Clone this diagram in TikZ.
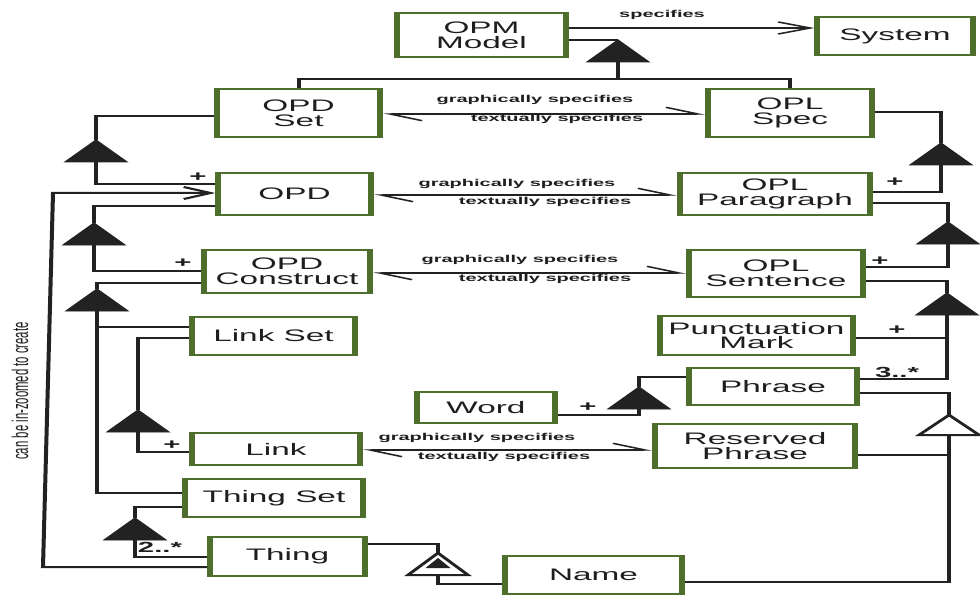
\documentclass[tikz,border=0pt]{standalone}
\usepackage{fontspec}
\setmainfont{Liberation Sans}
\usetikzlibrary{arrows.meta}
\definecolor{boxc}{HTML}{4E6E2E}
\definecolor{ink}{HTML}{1E1E1E}
\definecolor{linec}{HTML}{222222}
\tikzset{
  obj/.style 2 args={draw=boxc, line width=2pt, fill=white, text=ink,
    minimum width=#1*0.375pt, minimum height=#2*0.75pt, inner sep=0pt,
    align=center, font=\fontsize{12.5}{11}\selectfont},
  conn/.style={draw=linec, line width=1.5pt},
  thin/.style={draw=linec, line width=1.1pt},
  lbl/.style={font=\bfseries\fontsize{7.5}{9}\selectfont, inner sep=0pt, text=ink},
  plusmark/.style={font=\bfseries\fontsize{11}{12}\selectfont, inner sep=0pt, text=ink},
  multi/.style={font=\bfseries\fontsize{11}{12}\selectfont, inner sep=0pt, text=ink},
  rotlbl/.style={rotate=90, font=\fontsize{8.5}{10}\selectfont, inner sep=0pt, text=ink},
  spec/.style={{Straight Barb[left,length=12pt,width=10pt]}-{Straight Barb[left,length=12pt,width=10pt]}},
  % filled aggregation triangle
  agg/.pic={
    \filldraw[fill=linec, draw=linec, line width=0.6pt] (-31,22) -- (0,0) -- (31,22) -- cycle;
    \coordinate (-apex) at (0,0);
    \coordinate (-base) at (0,22);
  },
  % hollow generalization triangle
  gen/.pic={
    \filldraw[fill=white, draw=linec, line width=1.5pt] (-30,20) -- (0,0) -- (30,20) -- cycle;
    \coordinate (-apex) at (0,0);
    \coordinate (-base) at (0,20);
  },
  % exhibition triangle: hollow with a filled inner triangle
  exh/.pic={
    \filldraw[fill=white, draw=linec, line width=1.5pt] (-30,22) -- (0,0) -- (30,22) -- cycle;
    \fill[linec] (-12.5,15) -- (0,5) -- (12.5,15) -- cycle;
    \coordinate (-apex) at (0,0);
    \coordinate (-base) at (0,22);
  },
}
\begin{document}
\begin{tikzpicture}[x=0.75pt,y=-0.75pt]
\fill[white] (0,0) rectangle (980,595);
\useasboundingbox (0,0) rectangle (980,595);
\begin{scope}[transform canvas={xscale=2}, x=0.375pt]

% objects
\node[obj={169}{44}] (opm)      at (481.5,35)  {OPM\\Model};
\node[obj={156}{38}] (sys)      at (895,36)    {System};
\node[obj={163}{48}] (opdset)   at (298.5,113) {OPD\\Set};
\node[obj={164}{48}] (oplspec)  at (790,113)   {OPL\\Spec};
\node[obj={153}{42}] (opd)      at (294.5,194) {OPD};
\node[obj={190}{42}] (oplpar)   at (775,194)   {OPL\\Paragraph};
\node[obj={166}{43}] (opdc)     at (287,271.5) {OPD\\Construct};
\node[obj={174}{47}] (opls)     at (776,273.5) {OPL\\Sentence};
\node[obj={163}{38}] (linkset)  at (273.5,336) {Link Set};
\node[obj={193}{39}] (punct)    at (756.5,335.5) {Punctuation\\Mark};
\node[obj={168}{37}] (phrase)   at (773,386.5) {Phrase};
\node[obj={138}{31}] (word)     at (486,407.5) {Word};
\node[obj={168}{32}] (link)     at (276,449)   {Link};
\node[obj={200}{44}] (resph)    at (755,446)   {Reserved\\Phrase};
\node[obj={178}{38}] (thingset) at (274,498)   {Thing Set};
\node[obj={155}{39}] (thing)    at (287.5,556.5) {Thing};
\node[obj={177}{38}] (nm)       at (593.5,575) {Name};

% OPM Model specifies System
\draw[thin, -{Straight Barb[length=12pt,width=9pt]}] (opm.east |- 0,28) -- (sys.west |- 0,28);
\node[lbl] at (662,15) {specifies};

% OPM Model consists of OPD Set and OPL Spec
\pic (t0) at (618,40) {agg};
\coordinate (j0) at (618,79);
\draw[conn] (opm.east |- 0,40) -- (t0-apex);
\draw[conn] (t0-base) -- (j0);
\draw[conn] (opdset.north) |- (j0) -| (oplspec.north);

% graphically / textually specifies pairs
\draw[thin, spec] (opdset.east |- 0,114) -- (oplspec.west |- 0,114);
\node[lbl] at (535,100) {graphically specifies};
\node[lbl] at (557,119) {textually specifies};

\draw[thin, spec] (opd.east |- 0,195) -- (oplpar.west |- 0,195);
\node[lbl] at (517,184) {graphically specifies};
\node[lbl] at (545,202) {textually specifies};

\draw[thin, spec] (opdc.east |- 0,273) -- (opls.west |- 0,273);
\node[lbl] at (520,260) {graphically specifies};
\node[lbl] at (545,279) {textually specifies};

\draw[thin, spec] (link.east |- 0,450) -- (resph.west |- 0,450);
\node[lbl] at (477,438) {graphically specifies};
\node[lbl] at (504,457) {textually specifies};

% left hierarchy
\pic (t1) at (96,140) {agg};
\draw[conn] (opdset.west |- 0,116) -| (t1-apex);
\draw[conn] (t1-base) |- (opd.west |- 0,184);
\node[plusmark] at (198,177) {+};

\pic (t2) at (94,223) {agg};
\draw[conn] (opd.west |- 0,206) -| (t2-apex);
\draw[conn] (t2-base) |- (opdc.west |- 0,271);
\node[plusmark] at (183,263) {+};

\pic (t3) at (97,289) {agg};
\draw[conn] (opdc.west |- 0,283) -| (t3-apex);
\draw[conn] (t3-base) |- (thingset.west |- 0,493);
\draw[conn] (t3-base |- 0,327) -- (linkset.west |- 0,327);

\pic (t4) at (138,410) {agg};
\draw[conn] (linkset.west |- 0,338) -| (t4-apex);
\draw[conn] (t4-base) |- (link.west |- 0,452);
\node[plusmark] at (172,445) {+};

\pic (t5) at (135,518) {agg};
\draw[conn] (thingset.west |- 0,507) -| (t5-apex);
\draw[conn] (t5-base) |- (thing.west |- 0,557);
\node[multi] at (160,547) {2..*};

% in-zooming back to OPD
\coordinate (z1) at (43,567);
\coordinate (z2) at (53,193);
\draw[conn, -{Straight Barb[length=10pt,width=9pt]}] (thing.west |- 0,567) -- (z1) -- (z2) -- (opd.west |- 0,193);
\node[rotlbl] at (20,391) {can be in-zoomed to create};

% right hierarchy
\pic (t6) at (941,143) {agg};
\draw[conn] (oplspec.east |- 0,112) -| (t6-apex);
\draw[conn] (t6-base) |- (oplpar.east |- 0,192);
\node[plusmark] at (895,182) {+};

\pic (t7) at (948,222) {agg};
\draw[conn] (oplpar.east |- 0,203) -| (t7-apex);
\draw[conn] (t7-base) |- (opls.east |- 0,267);
\node[plusmark] at (880,261) {+};

\pic (t8) at (947,293) {agg};
\draw[conn] (opls.east |- 0,281) -| (t8-apex);
\draw[conn] (t8-base) |- (phrase.east |- 0,379);
\draw[conn] (t8-base |- 0,338) -- (punct.east |- 0,338);
\node[plusmark] at (897,330) {+};
\node[multi] at (897,372) {3..*};

\pic (t10) at (639,387) {agg};
\draw[conn] (word.east |- 0,415) -| (t10-base);
\draw[conn] (t10-apex) |- (phrase.west |- 0,377);
\node[plusmark] at (588,407) {+};

\pic (t9) at (949,415) {gen};
\draw[conn] (phrase.east |- 0,393) -| (t9-apex);
\draw[conn] (t9-base) |- (nm.east |- 0,582);
\draw[conn] (resph.east |- 0,455) -- (t9-base |- 0,455);

% Thing exhibits Name
\pic (t11) at (438,553) {exh};
\draw[conn] (thing.east |- 0,544) -| (t11-apex);
\draw[conn] (t11-base) |- (nm.west |- 0,584);

\end{scope}
\end{tikzpicture}
\end{document}
